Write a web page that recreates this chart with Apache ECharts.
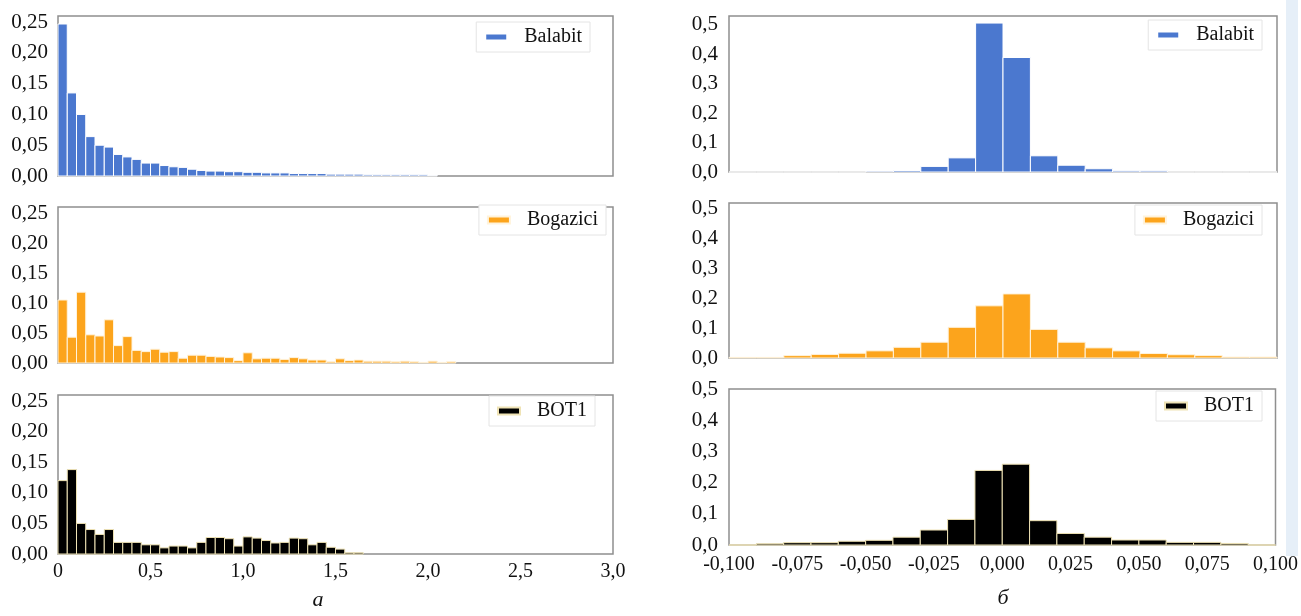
<!DOCTYPE html>
<html>
<head>
<meta charset="utf-8">
<script src="https://cdn.jsdelivr.net/npm/echarts@6/dist/echarts.min.js"></script>
<style>
  html, body { margin: 0; background: #fff; }
  #chart { width: 1301px; height: 616px; }
</style>
</head>
<body>
<div id="chart"></div>
<script>
// left column (a): bins of 0.05 from 0
var leftBinStart = 0;
var leftBinWidth = 0.05;
var leftBalabit = [0.247, 0.135, 0.100, 0.064, 0.050, 0.047, 0.035, 0.031, 0.027, 0.021,
  0.021, 0.017, 0.015, 0.014, 0.011, 0.009, 0.008, 0.008, 0.007, 0.007,
  0.006, 0.006, 0.005, 0.005, 0.005, 0.004, 0.004, 0.004, 0.004, 0.003,
  0.003, 0.003, 0.003, 0.002, 0.002, 0.002, 0.002, 0.002, 0.002, 0.002, 0.001];
var leftBogazici = [0.105, 0.043, 0.118, 0.047, 0.045, 0.072, 0.029, 0.044, 0.021, 0.019,
  0.023, 0.018, 0.019, 0.008, 0.013, 0.013, 0.011, 0.010, 0.009, 0.004,
  0.017, 0.007, 0.008, 0.008, 0.006, 0.009, 0.007, 0.005, 0.005, 0.002,
  0.007, 0.004, 0.005, 0.003, 0.003, 0.003, 0.002, 0.003, 0.002, 0.001,
  0.003, 0.001, 0.002];
var leftBot1 = [0.120, 0.138, 0.050, 0.040, 0.032, 0.040, 0.019, 0.019, 0.019, 0.015,
  0.015, 0.010, 0.013, 0.013, 0.010, 0.019, 0.027, 0.027, 0.025, 0.013,
  0.028, 0.026, 0.022, 0.018, 0.019, 0.026, 0.025, 0.015, 0.019, 0.011,
  0.008, 0.002, 0.002];

// right column (б): bins of 0.01 from -0.1
var rightBinStart = -0.1;
var rightBinWidth = 0.01;
var rightBalabit = [0, 0, 0, 0, 0, 0.003, 0.005, 0.019, 0.048, 0.506,
  0.389, 0.055, 0.023, 0.011, 0.004, 0.004, 0, 0, 0, 0];
var rightBogazici = [0.002, 0.002, 0.008, 0.012, 0.016, 0.024, 0.036, 0.053, 0.103, 0.175,
  0.215, 0.096, 0.053, 0.034, 0.024, 0.015, 0.011, 0.008, 0.003, 0.003];
var rightBot1 = [0, 0.004, 0.0075, 0.0075, 0.012, 0.015, 0.025, 0.048, 0.082, 0.239,
  0.259, 0.078, 0.037, 0.025, 0.016, 0.016, 0.0085, 0.0085, 0.005, 0];

var names = ['Balabit', 'Bogazici', 'BOT1'];
var colors = ['#4b78cf', '#fca41c', '#000000'];
var edges = ['#ffffff', '#fff3dc', '#efe3b5'];
var subLabels = ['а', 'б'];

var font = 'Liberation Serif, Times New Roman, serif';

function toBins(values, start, width) {
  return values.map(function (v, i) {
    var x0 = +(start + i * width).toFixed(4);
    var x1 = +(start + (i + 1) * width).toFixed(4);
    return [x0, x1, v];
  });
}

function renderBin(params, api) {
  var top = api.coord([api.value(0), api.value(2)]);
  var bottom = api.coord([api.value(1), 0]);
  return {
    type: 'rect',
    shape: { x: top[0], y: top[1], width: bottom[0] - top[0], height: bottom[1] - top[1] },
    style: api.style()
  };
}

var grids = [
  { left: 58, width: 555, top: 16, height: 160 },
  { left: 58, width: 555, top: 207, height: 156 },
  { left: 58, width: 555, top: 395, height: 159 },
  { left: 729, width: 548, top: 16, height: 156 },
  { left: 729, width: 548, top: 203, height: 155 },
  { left: 729, width: 548, top: 389, height: 156 }
];
grids.forEach(function (g) {
  g.show = true;
  g.borderColor = '#8f8f8f';
  g.borderWidth = 1.5;
  g.backgroundColor = '#fff';
});

var yMax = [0.26, 0.26, 0.26, 0.53, 0.52, 0.50];
var legendPos = [
  { right: 711, top: 22 },
  { right: 695, top: 205 },
  { right: 706, top: 396 },
  { right: 39, top: 20 },
  { right: 39, top: 205 },
  { right: 39, top: 391 }
];

var xAxes = [], yAxes = [], series = [], legends = [];
var leftData = [leftBalabit, leftBogazici, leftBot1];
var rightData = [rightBalabit, rightBogazici, rightBot1];

for (var i = 0; i < 6; i++) {
  var isLeft = i < 3;
  var k = i % 3;
  xAxes.push({
    type: 'value',
    gridIndex: i,
    min: isLeft ? 0 : -0.1,
    max: isLeft ? 3 : 0.1,
    interval: isLeft ? 0.5 : 0.025,
    axisLine: { show: false },
    axisTick: { show: false },
    splitLine: { show: false },
    axisLabel: {
      show: k === 2,
      margin: isLeft ? 8 : 10,
      color: '#111',
      fontSize: 20,
      fontFamily: font,
      formatter: isLeft
        ? function (v) { return v === 0 ? '0' : v.toFixed(1).replace('.', ','); }
        : function (v) { if (Math.abs(v) < 1e-9) v = 0; return v.toFixed(3).replace('.', ','); }
    }
  });
  yAxes.push({
    type: 'value',
    gridIndex: i,
    min: 0,
    max: yMax[i],
    interval: isLeft ? 0.05 : 0.1,
    axisLine: { show: false },
    axisTick: { show: false },
    splitLine: { show: false },
    axisLabel: {
      showMaxLabel: yMax[i] === 0.5,
      margin: isLeft ? 10 : 11,
      color: '#111',
      fontSize: 21,
      fontFamily: font,
      formatter: isLeft
        ? function (v) { return v.toFixed(2).replace('.', ','); }
        : function (v) { return v.toFixed(1).replace('.', ','); }
    }
  });
  series.push({
    type: 'custom',
    name: names[k],
    xAxisIndex: i,
    yAxisIndex: i,
    renderItem: renderBin,
    encode: { x: [0, 1], y: 2 },
    itemStyle: { color: colors[k], borderColor: edges[k], borderWidth: 1 },
    data: isLeft
      ? toBins(leftData[k], leftBinStart, leftBinWidth)
      : toBins(rightData[k], rightBinStart, rightBinWidth)
  });
  legends.push({
    data: [names[k]],
    right: legendPos[i].right,
    top: legendPos[i].top,
    icon: 'rect',
    itemWidth: 22,
    itemHeight: 7,
    padding: [5, 8, 5, 8],
    backgroundColor: '#fff',
    borderColor: '#e4e4e4',
    borderWidth: 1,
    selectedMode: false,
    textStyle: { fontSize: 20, fontFamily: font, color: '#111', padding: [0, 0, 0, 12] }
  });
}

var chart = echarts.init(document.getElementById('chart'));
chart.setOption({
  animation: false,
  backgroundColor: '#fff',
  grid: grids,
  xAxis: xAxes,
  yAxis: yAxes,
  legend: legends,
  series: series,
  graphic: [
    { type: 'rect', left: 1286, top: 0, shape: { width: 12, height: 556 }, style: { fill: '#e6eff8' }, silent: true },
    { type: 'text', x: 318, y: 600, style: { text: subLabels[0], fontSize: 22, fontStyle: 'italic', fontFamily: font, fill: '#111', align: 'center', verticalAlign: 'middle' } },
    { type: 'text', x: 1003, y: 598, style: { text: subLabels[1], fontSize: 22, fontStyle: 'italic', fontFamily: font, fill: '#111', align: 'center', verticalAlign: 'middle' } }
  ]
});
</script>
</body>
</html>
